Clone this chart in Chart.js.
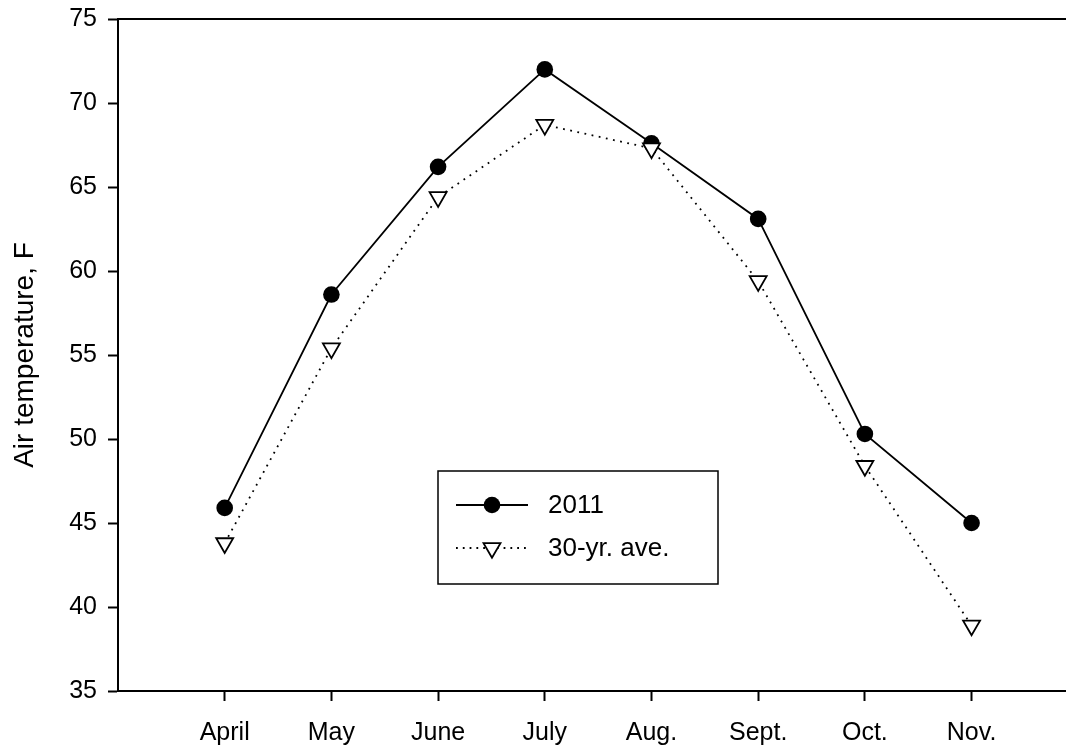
<!DOCTYPE html>
<html>
<head>
<meta charset="utf-8">
<script src="https://cdn.jsdelivr.net/npm/chart.js@4.4.1/dist/chart.umd.min.js"></script>
<style>
  html, body { margin: 0; padding: 0; background: #fff; }
  #wrap { width: 1066px; height: 746px; }
</style>
</head>
<body>
<div id="wrap"><canvas id="tempChart" width="1066" height="746"></canvas></div>
<script>
const months = ['April', 'May', 'June', 'July', 'Aug.', 'Sept.', 'Oct.', 'Nov.'];
const temp2011 = [45.9, 58.6, 66.2, 72.0, 67.6, 63.1, 50.3, 45.0];
const tempAve = [43.8, 55.4, 64.4, 68.7, 67.3, 59.4, 48.4, 38.9];
const yTicks = [35, 40, 45, 50, 55, 60, 65, 70, 75];

const FONT = "'Liberation Sans', Arial, sans-serif";

// legend box drawn inside the plot, like the original
const boxLegend = {
    id: 'boxLegend',
    afterDraw(chart) {
        const c = chart.ctx;
        c.save();
        c.strokeStyle = '#000';
        c.lineWidth = 1.5;
        c.strokeRect(438, 471, 280, 113);

        // 2011 entry
        c.beginPath();
        c.lineWidth = 1.8;
        c.moveTo(456, 505);
        c.lineTo(528, 505);
        c.stroke();
        c.beginPath();
        c.fillStyle = '#000';
        c.arc(492, 505, 8.3, 0, Math.PI * 2);
        c.fill();

        // 30-yr entry
        c.beginPath();
        c.setLineDash([1.8, 5]);
        c.moveTo(456, 548);
        c.lineTo(528, 548);
        c.stroke();
        c.setLineDash([]);
        const r = 9.8;
        c.beginPath();
        c.moveTo(492, 548 + r);
        c.lineTo(492 - r * Math.sin(Math.PI / 3), 548 - r / 2);
        c.lineTo(492 + r * Math.sin(Math.PI / 3), 548 - r / 2);
        c.closePath();
        c.fillStyle = '#fff';
        c.fill();
        c.lineWidth = 1.8;
        c.stroke();

        c.fillStyle = '#000';
        c.font = '26px ' + FONT;
        c.textBaseline = 'middle';
        c.fillText('2011', 548, 506);
        c.fillText('30-yr. ave.', 548, 549);
        c.restore();
    }
};

function noPad(scale) {
    scale.paddingLeft = 0;
    scale.paddingRight = 0;
    scale.paddingTop = 0;
    scale.paddingBottom = 0;
}

new Chart(document.getElementById('tempChart'), {
    type: 'line',
    data: {
        datasets: [
            {
                label: '30-yr. ave.',
                data: tempAve.map((v, i) => ({ x: i, y: v })),
                borderColor: '#000',
                borderWidth: 1.8,
                borderDash: [1.8, 5.5],
                pointStyle: 'triangle',
                rotation: 180,
                pointRadius: 9.8,
                pointBorderWidth: 1.8,
                pointBackgroundColor: '#fff',
                pointBorderColor: '#000',
                order: 0
            },
            {
                label: '2011',
                data: temp2011.map((v, i) => ({ x: i, y: v })),
                borderColor: '#000',
                borderWidth: 1.8,
                pointStyle: 'circle',
                pointRadius: 8.3,
                pointBorderWidth: 0,
                pointBackgroundColor: '#000',
                order: 1
            }
        ]
    },
    options: {
        responsive: false,
        animation: false,
        layout: { padding: 0, autoPadding: false },
        plugins: { legend: { display: false }, tooltip: { enabled: false } },
        scales: {
            x: {
                type: 'linear',
                position: 'bottom',
                min: -1,
                max: 7.885,
                afterBuildTicks: (scale) => { scale.ticks = months.map((m, i) => ({ value: i })); },
                afterFit: (scale) => { scale.height = 55; noPad(scale); },
                ticks: {
                    callback: (v) => months[v],
                    color: '#000',
                    font: { family: FONT, size: 25 },
                    padding: 17,
                    maxRotation: 0,
                    autoSkip: false
                },
                grid: { drawOnChartArea: false, tickLength: 10, tickWidth: 2, tickColor: '#000' },
                border: { color: '#000', width: 2 }
            },
            xTop: {
                type: 'linear',
                position: 'top',
                min: 0,
                max: 1,
                afterFit: (scale) => { scale.height = 19; noPad(scale); },
                ticks: { display: false },
                grid: { display: false },
                border: { color: '#000', width: 2 }
            },
            y: {
                min: 35,
                max: 75,
                afterBuildTicks: (scale) => { scale.ticks = yTicks.map(v => ({ value: v })); },
                afterFit: (scale) => { scale.width = 118; noPad(scale); },
                ticks: {
                    color: '#000',
                    font: { family: FONT, size: 25 },
                    padding: 11
                },
                grid: { drawOnChartArea: false, tickLength: 10, tickWidth: 2, tickColor: '#000' },
                border: { color: '#000', width: 2 },
                title: {
                    display: true,
                    text: 'Air temperature, F',
                    color: '#000',
                    font: { family: FONT, size: 28 },
                    padding: { top: 8, bottom: 0 }
                }
            }
        }
    },
    plugins: [boxLegend]
});
</script>
</body>
</html>
